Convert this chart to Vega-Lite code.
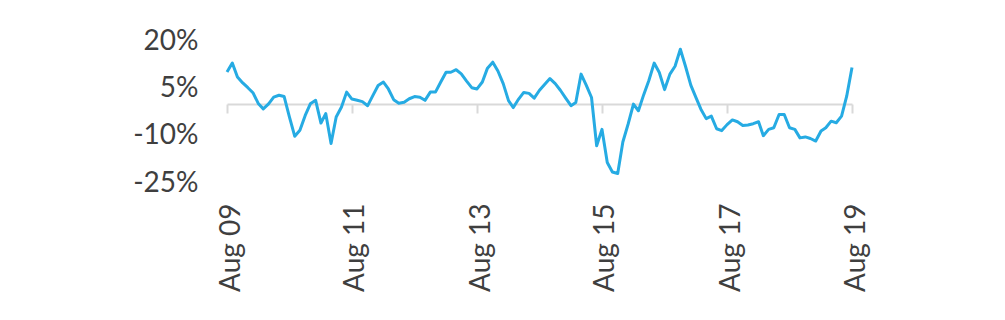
{
  "$schema": "https://vega.github.io/schema/vega-lite/v6.json",
  "width": 625,
  "height": 142,
  "autosize": "none",
  "padding": {"left": 227, "top": 41, "right": 153, "bottom": 137},
  "background": "white",
  "config": {
    "view": {"stroke": null},
    "font": "Lato",
    "axis": {"labelFont": "Lato", "labelColor": "#3f3f3f", "grid": false, "title": null}
  },
  "data": {"values": [
    {"date": "2009-08-01", "v": 0.102}, {"date": "2009-09-01", "v": 0.130}, {"date": "2009-10-01", "v": 0.086},
    {"date": "2009-11-01", "v": 0.067}, {"date": "2009-12-01", "v": 0.052},
    {"date": "2010-01-01", "v": 0.035}, {"date": "2010-02-01", "v": 0.001}, {"date": "2010-03-01", "v": -0.015},
    {"date": "2010-04-01", "v": 0.001}, {"date": "2010-05-01", "v": 0.022}, {"date": "2010-06-01", "v": 0.028},
    {"date": "2010-07-01", "v": 0.024}, {"date": "2010-08-01", "v": -0.041}, {"date": "2010-09-01", "v": -0.102},
    {"date": "2010-10-01", "v": -0.083}, {"date": "2010-11-01", "v": -0.036}, {"date": "2010-12-01", "v": 0.001},
    {"date": "2011-01-01", "v": 0.012}, {"date": "2011-02-01", "v": -0.060}, {"date": "2011-03-01", "v": -0.030},
    {"date": "2011-04-01", "v": -0.125}, {"date": "2011-05-01", "v": -0.041}, {"date": "2011-06-01", "v": -0.009},
    {"date": "2011-07-01", "v": 0.038}, {"date": "2011-08-01", "v": 0.016}, {"date": "2011-09-01", "v": 0.012},
    {"date": "2011-10-01", "v": 0.008}, {"date": "2011-11-01", "v": -0.005}, {"date": "2011-12-01", "v": 0.027},
    {"date": "2012-01-01", "v": 0.059}, {"date": "2012-02-01", "v": 0.070}, {"date": "2012-03-01", "v": 0.048},
    {"date": "2012-04-01", "v": 0.014}, {"date": "2012-05-01", "v": 0.003}, {"date": "2012-06-01", "v": 0.006},
    {"date": "2012-07-01", "v": 0.017}, {"date": "2012-08-01", "v": 0.024}, {"date": "2012-09-01", "v": 0.022},
    {"date": "2012-10-01", "v": 0.012}, {"date": "2012-11-01", "v": 0.038}, {"date": "2012-12-01", "v": 0.038},
    {"date": "2013-01-01", "v": 0.070}, {"date": "2013-02-01", "v": 0.101}, {"date": "2013-03-01", "v": 0.101},
    {"date": "2013-04-01", "v": 0.109}, {"date": "2013-05-01", "v": 0.096}, {"date": "2013-06-01", "v": 0.073},
    {"date": "2013-07-01", "v": 0.052}, {"date": "2013-08-01", "v": 0.048}, {"date": "2013-09-01", "v": 0.070},
    {"date": "2013-10-01", "v": 0.114}, {"date": "2013-11-01", "v": 0.133}, {"date": "2013-12-01", "v": 0.105},
    {"date": "2014-01-01", "v": 0.065}, {"date": "2014-02-01", "v": 0.011}, {"date": "2014-03-01", "v": -0.011},
    {"date": "2014-04-01", "v": 0.016}, {"date": "2014-05-01", "v": 0.037}, {"date": "2014-06-01", "v": 0.034},
    {"date": "2014-07-01", "v": 0.019}, {"date": "2014-08-01", "v": 0.044}, {"date": "2014-09-01", "v": 0.063},
    {"date": "2014-10-01", "v": 0.081}, {"date": "2014-11-01", "v": 0.065}, {"date": "2014-12-01", "v": 0.044},
    {"date": "2015-01-01", "v": 0.019}, {"date": "2015-02-01", "v": -0.005}, {"date": "2015-03-01", "v": 0.005},
    {"date": "2015-04-01", "v": 0.095}, {"date": "2015-05-01", "v": 0.060}, {"date": "2015-06-01", "v": 0.021},
    {"date": "2015-07-01", "v": -0.132}, {"date": "2015-08-01", "v": -0.080}, {"date": "2015-09-01", "v": -0.185},
    {"date": "2015-10-01", "v": -0.215}, {"date": "2015-11-01", "v": -0.220}, {"date": "2015-12-01", "v": -0.120},
    {"date": "2016-01-01", "v": -0.063}, {"date": "2016-02-01", "v": 0.000}, {"date": "2016-03-01", "v": -0.021},
    {"date": "2016-04-01", "v": 0.030}, {"date": "2016-05-01", "v": 0.075}, {"date": "2016-06-01", "v": 0.130},
    {"date": "2016-07-01", "v": 0.100}, {"date": "2016-08-01", "v": 0.046}, {"date": "2016-09-01", "v": 0.095},
    {"date": "2016-10-01", "v": 0.120}, {"date": "2016-11-01", "v": 0.174}, {"date": "2016-12-01", "v": 0.120},
    {"date": "2017-01-01", "v": 0.060}, {"date": "2017-02-01", "v": 0.020}, {"date": "2017-03-01", "v": -0.016},
    {"date": "2017-04-01", "v": -0.046}, {"date": "2017-05-01", "v": -0.038}, {"date": "2017-06-01", "v": -0.078},
    {"date": "2017-07-01", "v": -0.084}, {"date": "2017-08-01", "v": -0.065}, {"date": "2017-09-01", "v": -0.050},
    {"date": "2017-10-01", "v": -0.056}, {"date": "2017-11-01", "v": -0.068}, {"date": "2017-12-01", "v": -0.066},
    {"date": "2018-01-01", "v": -0.062}, {"date": "2018-02-01", "v": -0.056}, {"date": "2018-03-01", "v": -0.100},
    {"date": "2018-04-01", "v": -0.080}, {"date": "2018-05-01", "v": -0.075}, {"date": "2018-06-01", "v": -0.033},
    {"date": "2018-07-01", "v": -0.033}, {"date": "2018-08-01", "v": -0.075}, {"date": "2018-09-01", "v": -0.080},
    {"date": "2018-10-01", "v": -0.107}, {"date": "2018-11-01", "v": -0.104}, {"date": "2018-12-01", "v": -0.109},
    {"date": "2019-01-01", "v": -0.117}, {"date": "2019-02-01", "v": -0.085}, {"date": "2019-03-01", "v": -0.075},
    {"date": "2019-04-01", "v": -0.054}, {"date": "2019-05-01", "v": -0.059}, {"date": "2019-06-01", "v": -0.038},
    {"date": "2019-07-01", "v": 0.025}, {"date": "2019-08-01", "v": 0.116}
  ]},
  "layer": [
    {
      "mark": {"type": "line", "opacity": 0},
      "encoding": {
        "x": {
          "field": "date", "type": "temporal",
          "scale": {"type": "utc", "nice": false},
          "axis": {
            "orient": "bottom", "labels": false, "ticks": true, "tickSize": 9, "tickWidth": 2, "tickColor": "#d9d9d9",
            "domain": true, "domainColor": "#d9d9d9", "domainWidth": 2, "offset": -79, "title": null,
            "values": [
              {"year": 2009, "month": 8, "date": 1, "utc": true}, {"year": 2011, "month": 8, "date": 1, "utc": true},
              {"year": 2013, "month": 8, "date": 1, "utc": true}, {"year": 2015, "month": 8, "date": 1, "utc": true},
              {"year": 2017, "month": 8, "date": 1, "utc": true}, {"year": 2019, "month": 8, "date": 1, "utc": true}
            ]
          }
        },
        "y": {
          "field": "v", "type": "quantitative",
          "scale": {"domain": [-0.25, 0.2], "nice": false, "zero": false},
          "axis": {"values": [-0.25, -0.1, 0.05, 0.2], "labelExpr": "replace(format(datum.value, '.0%'), '\u2212', '-')",
                   "domain": false, "ticks": false, "tickSize": 0,
                   "labelPadding": 29, "labelFontSize": 28, "title": null, "grid": false}
        }
      }
    },
    {
      "mark": {"type": "line", "color": "#26abe3", "strokeWidth": 3, "strokeJoin": "round"},
      "encoding": {
        "x": {
          "field": "date", "type": "temporal",
          "scale": {"type": "utc", "nice": false},
          "axis": {
            "orient": "bottom", "labelAngle": -90, "labelExpr": "utcFormat(datum.value, '%b %y')", "labelFontSize": 28,
            "labelPadding": 20, "labelOffset": 4, "ticks": false, "tickSize": 0, "domain": false, "labelFlush": false,
            "labelOverlap": false, "labelBound": false, "title": null,
            "values": [
              {"year": 2009, "month": 8, "date": 1, "utc": true}, {"year": 2011, "month": 8, "date": 1, "utc": true},
              {"year": 2013, "month": 8, "date": 1, "utc": true}, {"year": 2015, "month": 8, "date": 1, "utc": true},
              {"year": 2017, "month": 8, "date": 1, "utc": true}, {"year": 2019, "month": 8, "date": 1, "utc": true}
            ]
          }
        },
        "y": {
          "field": "v", "type": "quantitative",
          "scale": {"domain": [-0.25, 0.2], "nice": false, "zero": false},
          "axis": {"values": [-0.25, -0.1, 0.05, 0.2], "labelExpr": "replace(format(datum.value, '.0%'), '\u2212', '-')",
                   "domain": false, "ticks": false, "tickSize": 0,
                   "labelPadding": 29, "labelFontSize": 28, "title": null, "grid": false}
        }
      }
    }
  ],
  "resolve": {"axis": {"x": "independent"}}
}
